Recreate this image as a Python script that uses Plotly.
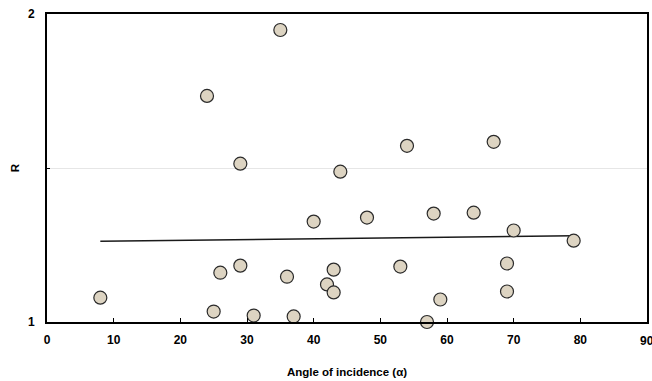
import plotly.graph_objects as go

angle = [35, 24, 29, 44, 54, 67, 40, 48, 58, 64, 70, 79, 8, 25, 31, 37, 57, 59, 69, 69, 53, 26, 29, 36, 43, 42, 43]
r_val = [1.948, 1.734, 1.514, 1.488, 1.572, 1.585, 1.326, 1.339, 1.352, 1.355, 1.297, 1.264,
         1.079, 1.034, 1.021, 1.018, 1.000, 1.073, 1.099, 1.190, 1.180, 1.160, 1.183, 1.147,
         1.170, 1.122, 1.096]
trend_x = [8, 79]
trend_y = [1.262, 1.280]

x_ticks = [0, 10, 20, 30, 40, 50, 60, 70, 80, 90]
y_ticks = [1, 1.5, 2]
y_tick_text = ["1", "", "2"]

FAM = "Liberation Sans, Arial, sans-serif"

fig = go.Figure()
fig.add_trace(go.Scatter(x=trend_x, y=trend_y, mode="lines",
                         line=dict(color="#1a1a1a", width=1.6), showlegend=False, cliponaxis=False))
fig.add_trace(go.Scatter(x=angle, y=r_val, mode="markers", cliponaxis=False,
                         marker=dict(size=13, color="#ddd4c2", line=dict(color="#2a2a2a", width=1.2)),
                         showlegend=False))

# last tick label sits partly beyond the page edge (as in the original), so draw it as an annotation
fig.add_annotation(x=x_ticks[-1], xref="x", y=0, yref="paper", yanchor="top", yshift=-10,
                   text="<b>%d</b>" % x_ticks[-1], showarrow=False,
                   font=dict(family=FAM, size=12, color="black"))

fig.update_layout(
    width=652, height=381,
    margin=dict(l=47, r=5, t=14, b=59),
    plot_bgcolor="white", paper_bgcolor="white",
    font=dict(family=FAM, size=11, color="black"),
    xaxis=dict(range=[0, 90], tickvals=x_ticks, ticks="inside", ticklen=4, tickwidth=1.2,
               tickcolor="black", showline=True, linecolor="black", linewidth=1.6, mirror=True,
               showgrid=False, zeroline=False, automargin=False, ticklabelstandoff=6,
               tickfont=dict(family=FAM, size=12, color="black", weight="bold"),
               title=dict(text="<b>Angle of incidence (α)</b>", standoff=22,
                          font=dict(family=FAM, size=11.5))),
    yaxis=dict(range=[1, 2], tickvals=y_ticks, ticktext=y_tick_text, ticks="inside", ticklen=3,
               tickwidth=1.2, tickcolor="black", showline=True, linecolor="black", linewidth=1.6,
               mirror=True, showgrid=True, gridcolor="#e6e6e6", gridwidth=1, zeroline=False,
               automargin=False, ticklabelstandoff=8,
               tickfont=dict(family=FAM, size=12, color="black", weight="bold"),
               title=dict(text="<b>R</b>", standoff=6,
                          font=dict(family=FAM, size=11.5))),
)
fig.write_html("out.html")
